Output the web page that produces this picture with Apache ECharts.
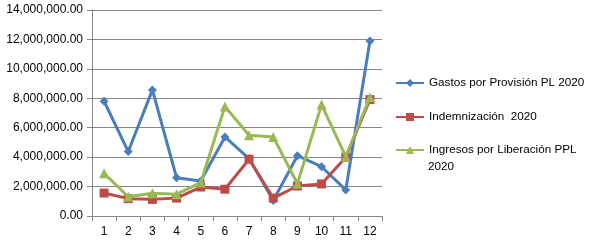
<!DOCTYPE html>
<html><head><meta charset="utf-8">
<script src="https://cdn.jsdelivr.net/npm/echarts@6/dist/echarts.min.js"></script>
<style>html,body{margin:0;padding:0;background:#fff}#c{width:592px;height:244px}</style>
</head><body><div id="c"></div>
<script>
const categories = ['1','2','3','4','5','6','7','8','9','10','11','12'];
const gastos = [7800000, 4380000, 8570000, 2600000, 2380000, 5370000, 3900000, 1050000, 4100000, 3350000, 1770000, 11900000];
const indemnizacion = [1560000, 1180000, 1130000, 1220000, 1970000, 1820000, 3860000, 1220000, 2040000, 2180000, 3990000, 7910000];
const ingresos = [2900000, 1310000, 1540000, 1480000, 2270000, 7440000, 5490000, 5370000, 2200000, 7570000, 4030000, 8070000];
const seriesNames = ['Gastos por Provisión PL 2020', 'Indemnización  2020', 'Ingresos por Liberación PPL 2020'];

function fmt(v){
  const s = Math.round(v).toString().replace(/\B(?=(\d{3})+(?!\d))/g, ',');
  return s + '.00';
}
const font = 'Liberation Sans, Arial, sans-serif';
const chart = echarts.init(document.getElementById('c'), null, {renderer:'canvas'});
function legendFor(name, top, label){
  return {
    data:[name], left:395, top:top, orient:'vertical', padding:0,
    itemWidth:28, itemHeight:10, itemGap:3,
    textStyle:{fontFamily:font, fontSize:11.7, color:'#000'},
    formatter: label ? (() => label) : undefined
  };
}
chart.setOption({
  animation:false,
  textStyle:{fontFamily:font},
  grid:{left:92, right:210, top:10, bottom:28, containLabel:false},
  legend:[
    legendFor(seriesNames[0], 77),
    legendFor(seriesNames[1], 111),
    legendFor(seriesNames[2], 144, 'Ingresos por Liberación PPL')
  ],
  graphic:[{type:'text', left:428, top:161, style:{text:'2020', font:'11.7px ' + font, fill:'#000'}}],
  xAxis:{
    type:'category', data:categories, boundaryGap:true,
    axisLine:{lineStyle:{color:'#868686', width:1}},
    axisTick:{show:true, length:5, lineStyle:{color:'#868686'}, alignWithLabel:false},
    axisLabel:{color:'#000', fontSize:12, margin:10, fontFamily:font}
  },
  yAxis:{
    type:'value', min:0, max:14000000, interval:2000000,
    axisLine:{show:true, lineStyle:{color:'#868686'}},
    axisTick:{show:true, length:5, lineStyle:{color:'#868686'}},
    splitLine:{lineStyle:{color:'#868686', width:1}},
    axisLabel:{color:'#000', fontSize:12, margin:9, formatter:fmt, fontFamily:font}
  },
  series:[
    {name:seriesNames[0], type:'line', data:gastos, color:'#4A7EBB',
     lineStyle:{width:3, color:'#4A7EBB'}, symbol:'diamond', symbolSize:9, itemStyle:{color:'#4A7EBB'}, z:3},
    {name:seriesNames[1], type:'line', data:indemnizacion, color:'#BE4B48',
     lineStyle:{width:3, color:'#BE4B48'}, symbol:'rect', symbolSize:9, itemStyle:{color:'#BE4B48'}, z:4},
    {name:seriesNames[2], type:'line', data:ingresos, color:'#98B954',
     lineStyle:{width:3, color:'#98B954'}, symbol:'triangle', symbolSize:10, itemStyle:{color:'#98B954'}, z:5}
  ]
});
</script></body></html>
